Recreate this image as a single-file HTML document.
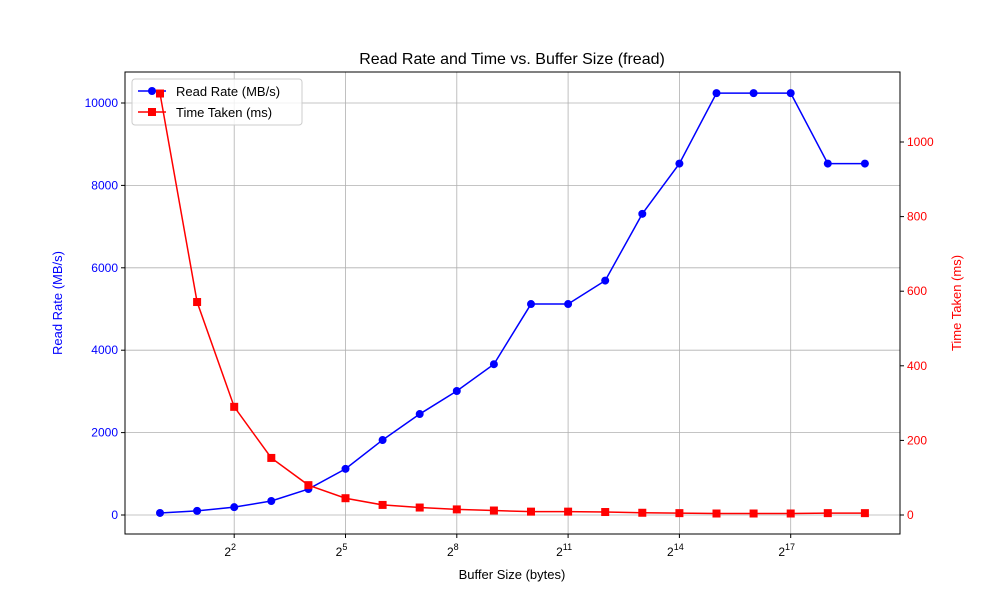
<!DOCTYPE html>
<html><head><meta charset="utf-8"><style>body{margin:0;background:#fff}svg{font-family:"Liberation Sans",sans-serif}</style></head>
<body>
<svg id="c" width="1000" height="600"></svg>
<script>
const exponents=[0,1,2,3,4,5,6,7,8,9,10,11,12,13,14,15,16,17,18,19];
const readRate=[50,100,190,340,630,1120,1820,2450,3010,3660,5120,5120,5690,7310,8530,10240,10240,10240,8530,8530];
const timeTaken=[1130,571,290,153,80,45,27,20,15,12,9,9,8,6,5,4,4,4,5,5];
const leftTicks=[0,2000,4000,6000,8000,10000];
const rightTicks=[0,200,400,600,800,1000];
const xTicks=[2,5,8,11,14,17];
const NS="http://www.w3.org/2000/svg";const svg=document.getElementById('c');
const L=125,R=900,T=72,B=534;
const xs=e=>160+(e-0)*37.1;
const yl=v=>515-v*0.0412;
const yr=v=>515-v*0.373;
function mk(t,a,p){const e=document.createElementNS(NS,t);for(const k in a)e.setAttribute(k,a[k]);(p||svg).appendChild(e);return e;}
// grid
xTicks.forEach(e=>{const g=mk('line',{x1:xs(e),x2:xs(e),y1:T,y2:B,stroke:'#b0b0b0','stroke-width':0.8});});
leftTicks.forEach(v=>{const g=mk('line',{x1:L,x2:R,y1:yl(v),y2:yl(v),stroke:'#b0b0b0','stroke-width':0.8});});
const fr=mk('rect',{x:L,y:T,width:R-L,height:B-T,fill:'none',stroke:'#000','stroke-width':1});

// ticks
xTicks.forEach(e=>{mk('line',{x1:xs(e),x2:xs(e),y1:B,y2:B+4,stroke:'#000'});
const t=mk('text',{x:xs(e)-4,y:B+22,'font-size':12,'text-anchor':'middle'});
t.textContent='2';const s=mk('tspan',{dy:-6,'font-size':9},t);s.textContent=e;});
leftTicks.forEach(v=>{mk('line',{x1:L-4,x2:L,y1:yl(v),y2:yl(v),stroke:'#000'});
const t=mk('text',{x:L-7,y:yl(v)+4,'font-size':12,'text-anchor':'end',fill:'blue'});t.textContent=v;});
rightTicks.forEach(v=>{mk('line',{x1:R,x2:R+4,y1:yr(v),y2:yr(v),stroke:'#000'});
const t=mk('text',{x:R+7,y:yr(v)+4,'font-size':12,fill:'red'});t.textContent=v;});
// read rate series
const p1=mk('polyline',{points:exponents.map((e,i)=>xs(e)+','+yl(readRate[i])).join(' '),fill:'none',stroke:'blue','stroke-width':1.5});

exponents.forEach((e,i)=>{const c=mk('circle',{cx:xs(e),cy:yl(readRate[i]),r:4,fill:'blue'});});
// legend
const lg=mk('g',{});
mk('rect',{x:132,y:79,width:170,height:46,rx:3,fill:'#fff','fill-opacity':0.8,stroke:'#ccc'},lg);
mk('line',{x1:138,x2:166,y1:91,y2:91,stroke:'blue','stroke-width':1.5},lg);mk('circle',{cx:152,cy:91,r:4,fill:'blue'},lg);
let t=mk('text',{x:176,y:96,'font-size':13},lg);t.textContent='Read Rate (MB/s)';
mk('line',{x1:138,x2:166,y1:112,y2:112,stroke:'red','stroke-width':1.5},lg);mk('rect',{x:148,y:108,width:8,height:8,fill:'red'},lg);
t=mk('text',{x:176,y:117,'font-size':13},lg);t.textContent='Time Taken (ms)';
// time series (twin axis, above legend)
const p2=mk('polyline',{points:exponents.map((e,i)=>xs(e)+','+yr(timeTaken[i])).join(' '),fill:'none',stroke:'red','stroke-width':1.5});

exponents.forEach((e,i)=>{const c=mk('rect',{x:xs(e)-4,y:yr(timeTaken[i])-4,width:8,height:8,fill:'red'});});
// titles
t=mk('text',{x:512,y:64,'font-size':16,'text-anchor':'middle'});t.textContent='Read Rate and Time vs. Buffer Size (fread)';
t=mk('text',{x:512,y:579,'font-size':13,'text-anchor':'middle'});t.textContent='Buffer Size (bytes)';
t=mk('text',{x:62,y:303,'font-size':13,'text-anchor':'middle',fill:'blue',transform:'rotate(-90 62 303)'});t.textContent='Read Rate (MB/s)';
t=mk('text',{x:961,y:303,'font-size':13,'text-anchor':'middle',fill:'red',transform:'rotate(-90 961 303)'});t.textContent='Time Taken (ms)';
</script>
</body></html>
